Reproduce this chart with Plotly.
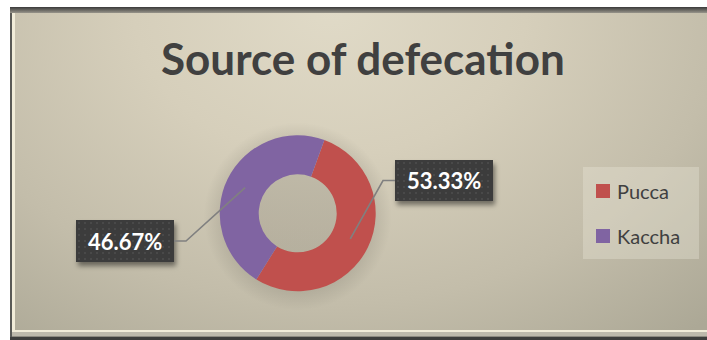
import math
import base64
import plotly.graph_objects as go

# ---- data ----
labels = ["Pucca", "Kaccha"]
values = [53.33, 46.67]
colors = ["#C0504D", "#8064A2"]
title_text = "Source of defecation"

# ---- geometry (pixels) ----
W, H = 707, 340
START_ANGLE = 20          # first slice starts 20 deg clockwise from 12 o'clock
HOLE = 0.5
CX, CY, R = 297.7, 213.3, 78

# data-label boxes (x0, y0, x1, y1) and which side the leader joins
label_boxes = [(395, 160, 493, 201), (76, 220, 174, 262)]
label_side = ["left", "right"]

TEXT_DARK = "#404040"
FONT = "Lato"


def px(x):
    return x / W


def py(y):
    return 1 - y / H


def svg_uri(svg):
    return "data:image/svg+xml;base64," + base64.b64encode(svg.encode()).decode()


fig = go.Figure(
    go.Pie(
        labels=labels,
        values=values,
        marker=dict(colors=colors, line=dict(width=0)),
        hole=HOLE,
        sort=False,
        direction="clockwise",
        rotation=START_ANGLE,
        textinfo="none",
        showlegend=False,
        domain=dict(x=[px(CX - R), px(CX + R)], y=[py(CY + R), py(CY - R)]),
    )
)

# ---- framed, shaded background ----
bg_svg = f"""<svg xmlns='http://www.w3.org/2000/svg' width='{W}' height='{H}' viewBox='0 0 {W} {H}' preserveAspectRatio='none'>
<defs>
 <radialGradient id='g' gradientUnits='userSpaceOnUse' cx='330' cy='10' r='560' gradientTransform='translate(330 10) scale(1 0.75) translate(-330 -10)'>
  <stop offset='0' stop-color='#e0dac7'/>
  <stop offset='0.35' stop-color='#d6cfbb'/>
  <stop offset='0.7' stop-color='#c3bdaa'/>
  <stop offset='1' stop-color='#aca896'/>
 </radialGradient>
 <linearGradient id='top' x1='0' y1='0' x2='0' y2='1'>
  <stop offset='0' stop-color='#3a3a3a'/>
  <stop offset='1' stop-color='#97948a'/>
 </linearGradient>
 <radialGradient id='sh' gradientUnits='userSpaceOnUse' cx='{CX}' cy='{CY + 3}' r='{R + 16}'>
  <stop offset='0.78' stop-color='#000' stop-opacity='0.10'/>
  <stop offset='1' stop-color='#000' stop-opacity='0'/>
 </radialGradient>
</defs>
<rect width='{W}' height='{H}' fill='#ffffff'/>
<rect x='10' y='7' width='{W - 10}' height='{H - 7}' fill='#5a5a56'/>
<rect x='10' y='7' width='{W - 10}' height='6' fill='url(#top)'/>
<rect x='12' y='13' width='{W - 12}' height='{H - 13}' fill='#f1ecd8'/>
<rect x='12' y='332' width='{W - 12}' height='4' fill='#bdb9ab'/>
<rect x='12' y='336' width='{W - 12}' height='1' fill='#8d8a80'/>
<rect x='10' y='337' width='{W - 10}' height='3' fill='#3e3e3c'/>
<rect x='15' y='13' width='{W - 15}' height='317' fill='url(#g)'/>
<circle cx='{CX}' cy='{CY + 3}' r='{R + 16}' fill='url(#sh)'/>
</svg>"""

images = [
    dict(
        source=svg_uri(bg_svg), xref="paper", yref="paper", x=0, y=1,
        sizex=1, sizey=1, xanchor="left", yanchor="top", sizing="stretch",
        layer="below",
    )
]

shapes = []
annotations = []

# ---- data labels with leader lines ----
total = sum(values)
r_anchor = R * (1 + HOLE) / 2
cum = 0.0
PAD = 10
for val, (x0, y0, x1, y1), side in zip(values, label_boxes, label_side):
    mid = math.radians(START_ANGLE + (cum + val / 2) / total * 360)
    cum += val
    ax = CX + r_anchor * math.sin(mid)
    ay = CY - r_anchor * math.cos(mid)
    ly = (y0 + y1) / 2
    if side == "left":
        ex, elbow = x0, x0 - 12
    else:
        ex, elbow = x1, x1 + 12
    shapes.append(
        dict(
            type="path", xref="paper", yref="paper",
            path=f"M {px(ax)},{py(ay)} L {px(elbow)},{py(ly)} L {px(ex)},{py(ly)}",
            line=dict(color="#808080", width=1.6),
        )
    )

    bw, bh = x1 - x0, y1 - y0
    box_svg = f"""<svg xmlns='http://www.w3.org/2000/svg' width='{bw + 2 * PAD}' height='{bh + 2 * PAD}' viewBox='0 0 {bw + 2 * PAD} {bh + 2 * PAD}' preserveAspectRatio='none'>
<defs>
 <filter id='b' x='-30%' y='-30%' width='160%' height='160%'><feGaussianBlur stdDeviation='2.5'/></filter>
 <pattern id='d' width='6' height='6' patternUnits='userSpaceOnUse' x='{PAD}' y='{PAD}'>
  <rect width='6' height='6' fill='#3c3c3c'/>
  <circle cx='3' cy='3' r='0.9' fill='#4f4f4f'/>
 </pattern>
</defs>
<rect x='{PAD + 2}' y='{PAD + 4}' width='{bw}' height='{bh}' fill='#000' fill-opacity='0.45' filter='url(#b)'/>
<rect x='{PAD}' y='{PAD}' width='{bw}' height='{bh}' fill='url(#d)'/>
</svg>"""
    images.append(
        dict(
            source=svg_uri(box_svg), xref="paper", yref="paper",
            x=px(x0 - PAD), y=py(y0 - PAD),
            sizex=(bw + 2 * PAD) / W, sizey=(bh + 2 * PAD) / H,
            xanchor="left", yanchor="top", sizing="stretch", layer="above",
        )
    )
    annotations.append(
        dict(
            text=f"<b>{val:.2f}%</b>", xref="paper", yref="paper",
            x=px((x0 + x1) / 2), y=py(ly), xanchor="center", yanchor="middle",
            showarrow=False, font=dict(family=FONT, size=22, color="#ffffff"),
        )
    )

# ---- title ----
annotations.append(
    dict(
        text=f"<b>{title_text}</b>", xref="paper", yref="paper",
        x=px(363), y=py(58), xanchor="center", yanchor="middle",
        showarrow=False, font=dict(family=FONT, size=44, color=TEXT_DARK),
    )
)

# ---- legend ----
shapes.append(
    dict(type="rect", xref="paper", yref="paper",
         x0=px(583), x1=px(699), y0=py(167), y1=py(259),
         fillcolor="rgba(236,232,218,0.35)", line=dict(width=0), layer="below")
)
leg_y = [191, 236]
for lab, col, yy in zip(labels, colors, leg_y):
    shapes.append(
        dict(type="rect", xref="paper", yref="paper",
             x0=px(596), x1=px(610), y0=py(yy + 7), y1=py(yy - 7),
             fillcolor=col, line=dict(width=0))
    )
    annotations.append(
        dict(text=lab, xref="paper", yref="paper", x=px(615), y=py(yy),
             xanchor="left", yanchor="middle", showarrow=False,
             font=dict(family=FONT, size=20, color=TEXT_DARK))
    )

fig.update_layout(
    width=W, height=H,
    margin=dict(l=0, r=0, t=0, b=0),
    paper_bgcolor="#ffffff",
    images=images, shapes=shapes, annotations=annotations,
    showlegend=False,
)

fig.write_html("out.html")
